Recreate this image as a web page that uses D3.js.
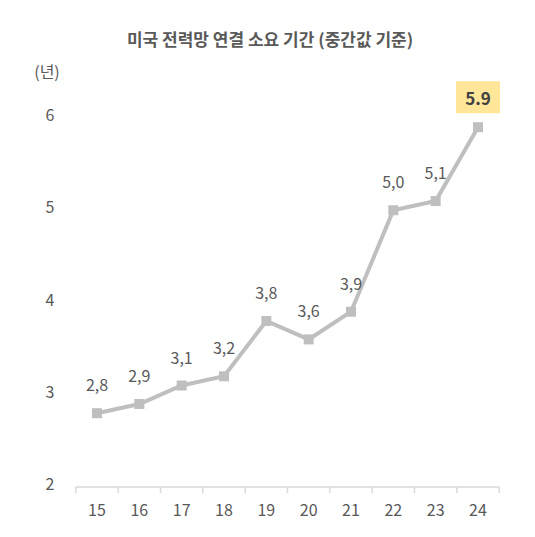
<!DOCTYPE html>
<html><head><meta charset="utf-8">
<script src="https://cdn.jsdelivr.net/npm/d3@7/dist/d3.min.js"></script>
<style>body{margin:0;background:#fff}</style>
</head><body><svg id="c" width="535" height="537"></svg>
<script>
const years = ["15","16","17","18","19","20","21","22","23","24"];
const values = [2.8,2.9,3.1,3.2,3.8,3.6,3.9,5.0,5.1,5.9];
const yTicks = [2,3,4,5,6];
const font = "'Noto Sans CJK KR','Noto Sans',sans-serif";
const svg = d3.select("#c");
const x = d3.scalePoint().domain(years).range([97,478]);
const y = d3.scaleLinear().domain([2,6]).range([487,118]);
svg.append("text").attr("x",270).attr("y",46).attr("text-anchor","middle")
  .attr("font-family",font).attr("font-size",17).attr("font-weight",700).attr("fill","#595959")
  .text("미국 전력망 연결 소요 기간 (중간값 기준)");
svg.append("text").attr("x",47).attr("y",78).attr("text-anchor","middle")
  .attr("font-family",font).attr("font-size",16).attr("fill","#595959").text("(년)");
svg.selectAll(".yt").data(yTicks).join("text").attr("x",50).attr("y",d=>y(d)+3)
  .attr("text-anchor","middle").attr("font-family",font).attr("font-size",16).attr("fill","#595959").text(d=>d);
const step = x.step();
svg.append("line").attr("x1",x(years[0])-step/2).attr("x2",x(years[9])+step/2)
  .attr("y1",487).attr("y2",487).attr("stroke","#d9d9d9").attr("stroke-width",1.5);
svg.selectAll(".tk").data(d3.range(11)).join("line")
  .attr("x1",i=>x(years[0])-step/2+i*step).attr("x2",i=>x(years[0])-step/2+i*step)
  .attr("y1",487).attr("y2",493).attr("stroke","#d9d9d9").attr("stroke-width",1.5);
svg.selectAll(".xt").data(years).join("text").attr("x",d=>x(d)).attr("y",516)
  .attr("text-anchor","middle").attr("font-family",font).attr("font-size",16).attr("fill","#595959").text(d=>d);
const line = d3.line().x((d,i)=>x(years[i])).y(d=>y(d));
svg.append("path").datum(values).attr("d",line).attr("fill","none").attr("stroke","#bfbfbf").attr("stroke-width",4);
svg.selectAll(".pt").data(values).join("rect").attr("x",(d,i)=>x(years[i])-5).attr("y",d=>y(d)-5)
  .attr("width",10).attr("height",10).attr("fill","#bfbfbf");
const n = values.length;
svg.append("rect").attr("x",x(years[n-1])-22).attr("y",y(values[n-1])-46).attr("width",44).attr("height",32).attr("fill","#ffe699");
svg.selectAll(".lb").data(values).join("text").attr("x",(d,i)=>x(years[i])).attr("y",d=>y(d)-22)
  .attr("text-anchor","middle").attr("font-family",font)
  .attr("font-size",(d,i)=>i===n-1?17:16).attr("font-weight",(d,i)=>i===n-1?700:400)
  .attr("fill",(d,i)=>i===n-1?"#404040":"#595959")
  .text((d,i)=>i===n-1?d.toFixed(1):d.toFixed(1).replace(".",","));
</script></body></html>
